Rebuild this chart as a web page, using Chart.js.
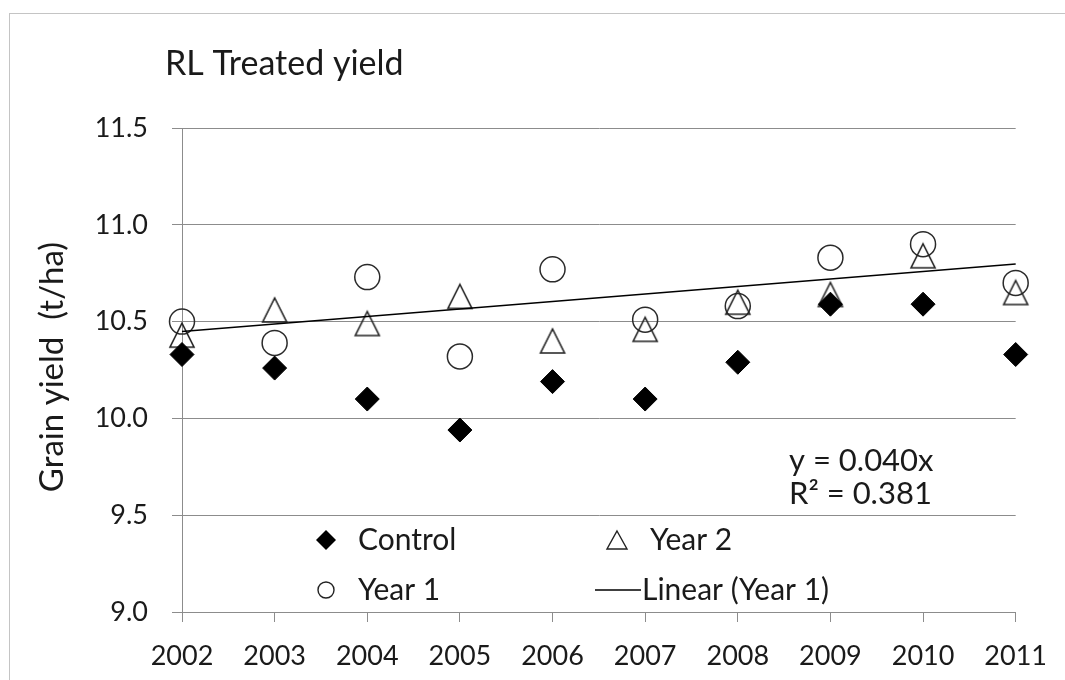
<!DOCTYPE html>
<html>
<head>
<meta charset="utf-8">
<script src="https://cdn.jsdelivr.net/npm/chart.js@4.4.1/dist/chart.umd.min.js"></script>
<style>
  html, body { margin: 0; padding: 0; background: #fff; }
  #wrap { width: 1065px; height: 680px; position: relative; }
</style>
</head>
<body>
<div id="wrap"><canvas id="chart"></canvas></div>
<script>
// values (t/ha)
const years = [2002, 2003, 2004, 2005, 2006, 2007, 2008, 2009, 2010, 2011];
const control = [10.33, 10.26, 10.10, 9.94, 10.19, 10.10, 10.29, 10.59, 10.59, 10.33];
const year2 = [10.43, 10.56, 10.49, 10.63, 10.40, 10.46, 10.60, 10.64, 10.84, 10.65];
const year1 = [10.50, 10.39, 10.73, 10.32, 10.77, 10.51, 10.58, 10.83, 10.90, 10.70];
const yTicks = [9.0, 9.5, 10.0, 10.5, 11.0, 11.5];

const titleText = 'RL Treated yield';
const yTitle = 'Grain yield  (t/ha)';
const eqLines = ['y = 0.040x', 'R\u00b2 = 0.381'];

const FONT = 'Lato, "Open Sans", sans-serif';
const TEXT = '#1a1a1a';
const GRID = '#8c8c8c';

// least squares trend of Year 1, like Excel's linear trendline
function linearFit(xs, ys) {
    const n = xs.length;
    const mx = xs.reduce((s, v) => s + v, 0) / n;
    const my = ys.reduce((s, v) => s + v, 0) / n;
    let sxy = 0, sxx = 0;
    xs.forEach((x, i) => {
        sxy += (x - mx) * (ys[i] - my);
        sxx += (x - mx) * (x - mx);
    });
    const b = sxy / sxx;
    return { a: my - b * mx, b };
}
const fit = linearFit(years, year1);
const trend = [years[0], years[years.length - 1]].map((x) => ({ x, y: fit.a + fit.b * x }));

const toPoints = (vals) => vals.map((y, i) => ({ x: years[i], y }));

// open triangle, centred on its bounding box like the Excel marker
function triangleMarker(size, lw) {
    const c = document.createElement('canvas');
    const pad = 3;
    c.width = size + pad * 2;
    c.height = size + pad * 2;
    const g = c.getContext('2d');
    g.strokeStyle = '#222';
    g.lineWidth = lw;
    g.lineJoin = 'miter';
    g.beginPath();
    g.moveTo(pad + size / 2, pad);
    g.lineTo(pad + size, pad + size);
    g.lineTo(pad, pad + size);
    g.closePath();
    g.stroke();
    return c;
}
const triBig = triangleMarker(24, 1.6);

const decorPlugin = {
    id: 'decor',
    beforeDraw(chart) {
        const ctx = chart.ctx;
        ctx.save();
        ctx.strokeStyle = '#c4c4c4';
        ctx.lineWidth = 1;
        ctx.strokeRect(9.5, 13.5, 1200, 800);
        ctx.restore();
    },
    afterDraw(chart) {
        const ctx = chart.ctx;
        ctx.save();
        ctx.fillStyle = TEXT;
        ctx.textBaseline = 'middle';
        ctx.textAlign = 'left';
        ctx.font = '34px ' + FONT;
        ctx.fillText(titleText, 165, 64);

        // y axis title
        ctx.save();
        ctx.translate(52, 367);
        ctx.rotate(-Math.PI / 2);
        ctx.textAlign = 'center';
        ctx.font = '33px ' + FONT;
        ctx.fillText(yTitle, 0, 0);
        ctx.restore();

        // equation
        ctx.font = '31px ' + FONT;
        ctx.fillText(eqLines[0], 789, 461);
        ctx.fillText(eqLines[1], 789, 494);

        // legend
        const r1 = 540, r2 = 590;
        ctx.fillStyle = '#000';
        ctx.beginPath();
        ctx.moveTo(326, r1 - 10);
        ctx.lineTo(336, r1);
        ctx.lineTo(326, r1 + 10);
        ctx.lineTo(316, r1);
        ctx.closePath();
        ctx.fill();

        ctx.strokeStyle = '#222';
        ctx.lineWidth = 1.4;
        ctx.beginPath();
        ctx.arc(326, r2, 8, 0, Math.PI * 2);
        ctx.stroke();

        ctx.beginPath();
        ctx.moveTo(617, r1 - 9);
        ctx.lineTo(627, r1 + 9);
        ctx.lineTo(607, r1 + 9);
        ctx.closePath();
        ctx.stroke();

        ctx.strokeStyle = '#000';
        ctx.lineWidth = 1.5;
        ctx.beginPath();
        ctx.moveTo(595, r2);
        ctx.lineTo(641, r2);
        ctx.stroke();

        ctx.fillStyle = TEXT;
        ctx.font = '30px ' + FONT;
        ctx.fillText('Control', 358, r1);
        ctx.fillText('Year 1', 358, r2);
        ctx.fillText('Year 2', 650, r1);
        ctx.fillText('Linear (Year 1)', 642, r2);
        ctx.restore();
    },
};

Chart.defaults.font.family = FONT;
Chart.defaults.font.size = 27;
Chart.defaults.color = TEXT;

new Chart(document.getElementById('chart').getContext('2d'), {
    type: 'scatter',
    data: {
        datasets: [
            {
                label: 'Control',
                data: toPoints(control),
                pointStyle: 'rectRot',
                pointRadius: 12,
                backgroundColor: '#000',
                borderColor: '#000',
                borderWidth: 1,
                clip: false,
                order: 0,
            },
            {
                label: 'Year 2',
                data: toPoints(year2),
                pointStyle: triBig,
                clip: false,
                order: 2,
            },
            {
                label: 'Year 1',
                data: toPoints(year1),
                pointStyle: 'circle',
                pointRadius: 12.5,
                backgroundColor: 'rgba(0,0,0,0)',
                borderColor: '#2a2a2a',
                borderWidth: 1.5,
                clip: false,
                order: 3,
            },
            {
                type: 'line',
                label: 'Linear (Year 1)',
                data: trend,
                showLine: true,
                pointRadius: 0,
                borderColor: '#000',
                borderWidth: 1.5,
                clip: false,
                order: 1,
            },
        ],
    },
    options: {
        responsive: true,
        maintainAspectRatio: false,
        animation: false,
        events: [],
        layout: { padding: { left: 0, top: 128, right: 47, bottom: 0 } },
        plugins: {
            legend: { display: false },
            tooltip: { enabled: false },
        },
        scales: {
            x: {
                type: 'linear',
                min: years[0],
                max: years[years.length - 1],
                afterBuildTicks: (scale) => { scale.ticks = years.map((v) => ({ value: v })); },
                afterFit: (scale) => { scale.height = 68; },
                ticks: {
                    callback: (v) => String(v),
                    padding: 18,
                    maxRotation: 0,
                    autoSkip: false,
                },
                grid: { drawOnChartArea: false, drawTicks: true, tickLength: 10, color: GRID },
                border: { display: true, color: GRID },
            },
            y: {
                min: yTicks[0],
                max: yTicks[yTicks.length - 1],
                afterBuildTicks: (scale) => { scale.ticks = yTicks.map((v) => ({ value: v })); },
                afterFit: (scale) => { scale.width = 182; },
                ticks: {
                    callback: (v) => Number(v).toFixed(1),
                    padding: 24,
                },
                grid: { color: GRID, tickLength: 10 },
                border: { display: true, color: GRID },
            },
        },
    },
    plugins: [decorPlugin],
});
</script>
</body>
</html>
